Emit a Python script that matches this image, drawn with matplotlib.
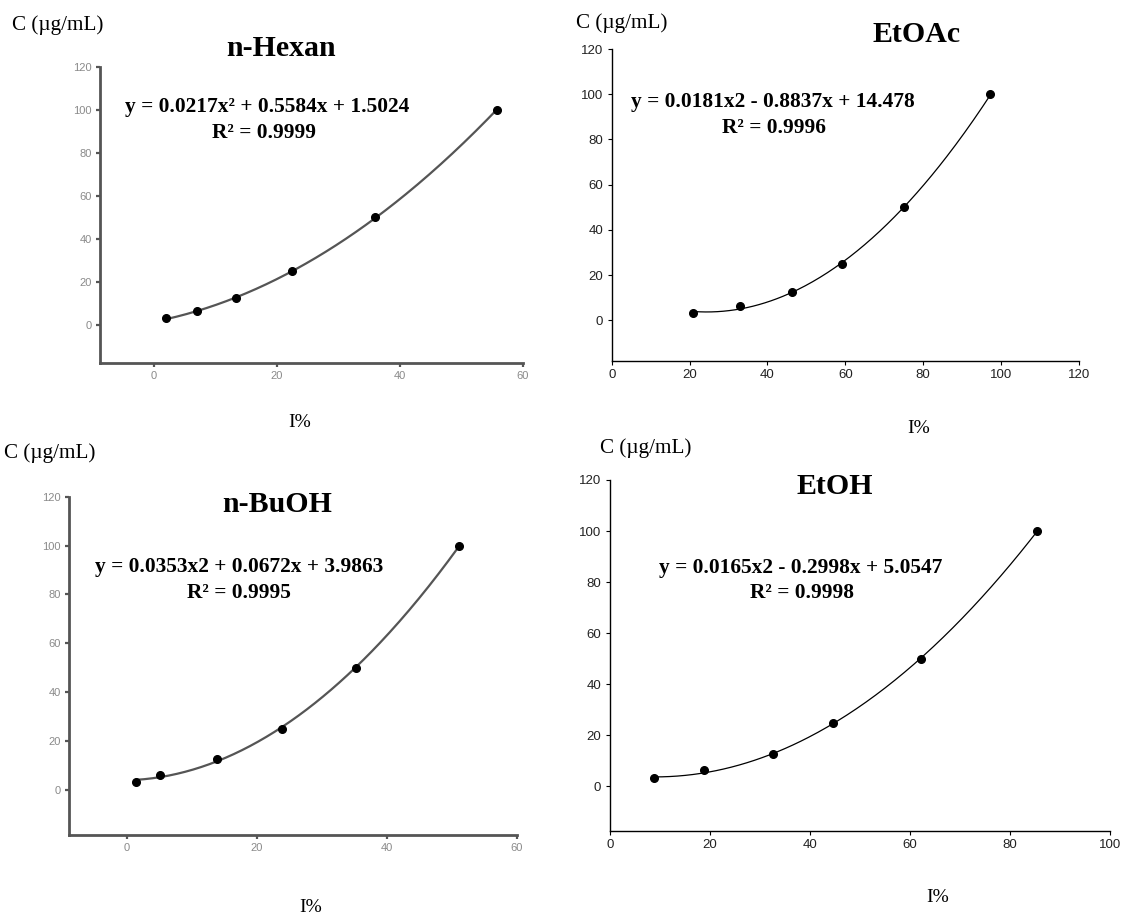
import numpy as np
import matplotlib
matplotlib.use("Agg")
import matplotlib.pyplot as plt

# standard concentrations (ug/mL) and measured inhibition (%)
conc = [3.125, 6.25, 12.5, 25, 50, 100]
hexan_i = [2.0, 7.0, 13.4, 22.5, 36.0, 55.8]
etoac_i = [21.0, 33.0, 46.3, 59.1, 75.0, 97.1]
buoh_i = [1.5, 5.2, 13.9, 23.9, 35.3, 51.2]
etoh_i = [8.9, 18.8, 32.6, 44.7, 62.3, 85.5]

# trendline coefficients (a, b, c) from the equations on the chart
hexan_fit = [0.0217, 0.5584, 1.5024]
etoac_fit = [0.0181, -0.8837, 14.478]
buoh_fit = [0.0353, 0.0672, 3.9863]
etoh_fit = [0.0165, -0.2998, 5.0547]

titles = ["n-Hexan", "EtOAc", "n-BuOH", "EtOH"]
equations = ["y = 0.0217x\u00b2 + 0.5584x + 1.5024",
             "y = 0.0181x2 - 0.8837x + 14.478",
             "y = 0.0353x2 + 0.0672x + 3.9863",
             "y = 0.0165x2 - 0.2998x + 5.0547"]
r2 = ["R\u00b2 = 0.9999", "R\u00b2 = 0.9996", "R\u00b2 = 0.9995", "R\u00b2 = 0.9998"]

W, H = 1121, 918
fig = plt.figure(figsize=(W / 100, H / 100), dpi=100)

def px(x, y):
    return x / W, 1 - y / H

# axes boxes in pixels: left, top, right, bottom
boxes = [(100, 66.7, 523, 363), (611.7, 49, 1079, 361),
         (69.3, 496.7, 516.7, 835), (609.7, 480, 1110, 831)]
xlims = [(-8.8, 60), (0, 120), (-8.8, 60), (0, 100)]
ylims = [(-17.7, 120), (-18, 120), (-18.4, 120), (-17.5, 120)]
xticks = [[0, 20, 40, 60], [0, 20, 40, 60, 80, 100, 120],
          [0, 20, 40, 60], [0, 20, 40, 60, 80, 100]]
xs = [hexan_i, etoac_i, buoh_i, etoh_i]
fits = [hexan_fit, etoac_fit, buoh_fit, etoh_fit]
faded = [True, False, True, False]

# text positions (pixels)
c_pos = [(12, 25), (576, 23), (4, 453), (600, 448)]
title_pos = [(281, 48), (917, 34), (277, 505), (835, 486)]
eq_pos = [(267, 107), (773, 102), (239, 567), (801, 568)]
r2_pos = [(264, 133), (774, 128), (239, 593), (802, 593)]
i_pos = [(300, 422), (919, 428), (311, 908), (938, 898)]

serif = "Liberation Serif"

for k in range(4):
    l, t, r, b = boxes[k]
    ax = fig.add_axes([l / W, 1 - b / H, (r - l) / W, (b - t) / H])
    x = np.array(xs[k])
    a, bb, c = fits[k]
    xx = np.linspace(x.min(), x.max(), 200)
    if faded[k]:
        spine_col, lw, tick_col, lab_col, fs, line_col = "#555555", 2.0, "#555555", "#8a8a8a", 8, "#555555"
        line_w = 1.6
    else:
        spine_col, lw, tick_col, lab_col, fs, line_col = "black", 1.0, "black", "#222222", 9.5, "black"
        line_w = 0.9
    ax.plot(xx, a * xx ** 2 + bb * xx + c, color=line_col, lw=line_w)
    ax.plot(x, conc, "o", color="black", ms=5.5)
    ax.set_xlim(*xlims[k])
    ax.set_ylim(*ylims[k])
    ax.set_xticks(xticks[k])
    ax.set_yticks([0, 20, 40, 60, 80, 100, 120])
    for s in ["top", "right"]:
        ax.spines[s].set_visible(False)
    for s in ["left", "bottom"]:
        ax.spines[s].set_color(spine_col)
        ax.spines[s].set_linewidth(lw)
    ax.spines["left"].set_bounds(ylims[k][0], 120)
    ax.tick_params(direction="out", length=3, width=lw * 0.8, color=tick_col,
                   labelcolor=lab_col, labelsize=fs, pad=3)
    for lab in ax.get_xticklabels() + ax.get_yticklabels():
        lab.set_family("Liberation Sans")
    ax.patch.set_alpha(0)

    fig.text(*px(*c_pos[k]), "C (\u00b5g/mL)", family=serif, fontsize=15.2,
             ha="left", va="center")
    fig.text(*px(*title_pos[k]), titles[k], family=serif, fontsize=21.5,
             fontweight="bold", ha="center", va="center")
    fig.text(*px(*eq_pos[k]), equations[k], family=serif, fontsize=15.4,
             fontweight="bold", ha="center", va="center")
    fig.text(*px(*r2_pos[k]), r2[k], family=serif, fontsize=15.4,
             fontweight="bold", ha="center", va="center")
    fig.text(*px(*i_pos[k]), "I%", family=serif, fontsize=14,
             ha="center", va="center")

fig.savefig("out.png", dpi=100)
